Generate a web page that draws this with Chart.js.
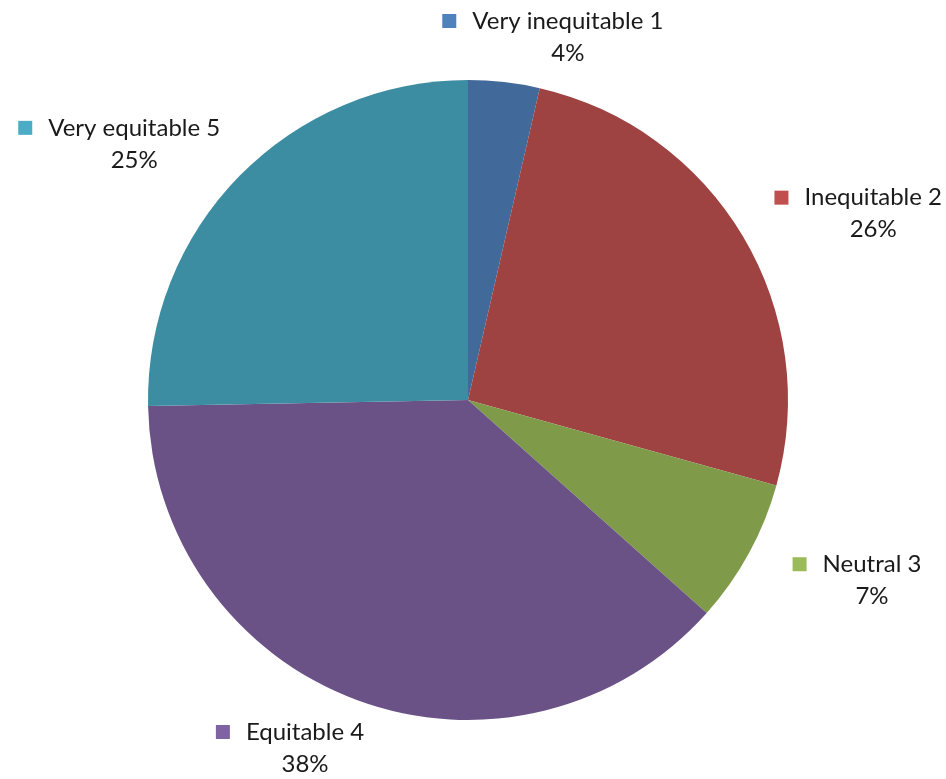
<!DOCTYPE html>
<html>
<head>
<meta charset="utf-8">
<script src="https://cdn.jsdelivr.net/npm/chart.js@4/dist/chart.umd.min.js"></script>
<style>
  html, body { margin: 0; padding: 0; background: #ffffff; }
  #wrap { width: 946px; height: 779px; }
</style>
</head>
<body>
<div id="wrap"><canvas id="c" width="946" height="779"></canvas></div>
<script>
const categories = ["Very inequitable 1", "Inequitable 2", "Neutral 3", "Equitable 4", "Very equitable 5"];
const shares = [3.6, 25.7, 7.3, 38.1, 25.3];
const sliceColors = ["#41699A", "#9E4341", "#7F9B4A", "#6A5287", "#3D8DA2"];
const markerColors = ["#4F81BD", "#C0504D", "#9BBB59", "#8064A2", "#4BACC6"];

const FONT = "24px Lato, 'Open Sans', sans-serif";

const labelPlugin = {
  id: 'outsideLabels',
  afterDatasetsDraw(chart) {
    const ctx = chart.ctx;
    const meta = chart.getDatasetMeta(0);
    const total = shares.reduce((a, b) => a + b, 0);
    ctx.save();
    ctx.font = FONT;
    ctx.textBaseline = 'middle';
    meta.data.forEach((arc, i) => {
      const p = arc.getProps(['x', 'y', 'startAngle', 'endAngle', 'outerRadius'], true);
      const mid = (p.startAngle + p.endAngle) / 2;
      const dx = Math.cos(mid), dy = Math.sin(mid);
      const text = categories[i];
      const pct = Math.round(shares[i] / total * 100) + '%';
      const tw = ctx.measureText(text).width;
      const marker = 14, mgap = 16;
      const w = marker + mgap + tw;
      const h = 60;
      let cx = p.x + dx * (p.outerRadius + 20) + dx * w / 2 + Math.sign(dx) * 34;
      let cy = p.y + dy * (p.outerRadius + 20) + dy * h / 2;
      cx = Math.max(w / 2 + 4, Math.min(chart.width - w / 2 - 4, cx));
      cy = Math.max(h / 2 + 4, Math.min(chart.height - h / 2 - 4, cy));
      const left = cx - w / 2;
      const line1 = cy - 13, line2 = cy + 19;
      ctx.fillStyle = markerColors[i];
      ctx.fillRect(left, line1 - marker / 2, marker, marker);
      ctx.fillStyle = '#1a1a1a';
      ctx.textAlign = 'left';
      ctx.fillText(text, left + marker + mgap, line1);
      ctx.textAlign = 'center';
      ctx.fillText(pct, left + marker + mgap + tw / 2, line2);
    });
    ctx.restore();
  }
};

new Chart(document.getElementById('c'), {
  type: 'pie',
  data: {
    labels: categories,
    datasets: [{
      data: shares,
      backgroundColor: sliceColors,
      borderWidth: 0
    }]
  },
  options: {
    responsive: false,
    animation: false,
    layout: { padding: { top: 80, bottom: 59, left: 148, right: 158 } },
    plugins: {
      legend: { display: false },
      tooltip: { enabled: false }
    }
  },
  plugins: [labelPlugin]
});
</script>
</body>
</html>
